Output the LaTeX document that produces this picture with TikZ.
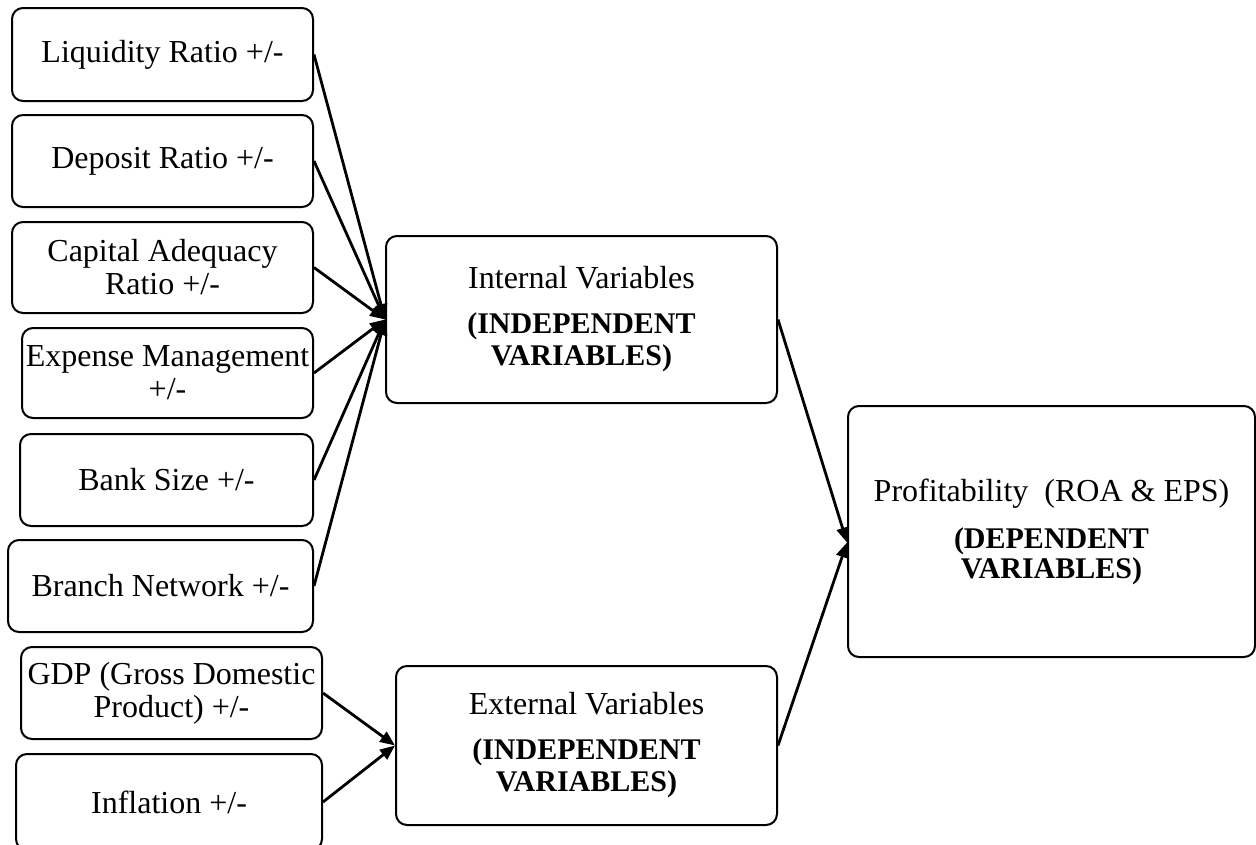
\documentclass[tikz,border=0pt]{standalone}
\usepackage{fontspec}
\setmainfont{Liberation Serif}
\usetikzlibrary{arrows.meta}
\newcommand{\bigB}[1]{{\fontsize{30}{32}\selectfont\bfseries #1}}
\tikzset{
  box/.style={draw, line width=2pt, rounded corners=11pt, inner sep=0pt, align=center,
    font=\fontsize{32}{33}\selectfont},
  arr/.style={line width=2.8pt, -{Triangle[length=15pt,width=12pt]}}
}
\begin{document}
\begin{tikzpicture}[x=1pt,y=-1pt]
\useasboundingbox (0,0) rectangle (1256,844);
% left boxes
\node[box, minimum width=301, minimum height=93] (liq) at (162.5,54.5) {Liquidity Ratio +/-};
\node[box, minimum width=301, minimum height=92] (dep) at (162.5,161) {Deposit Ratio +/-};
\node[box, minimum width=301, minimum height=91] (cap) at (162.5,267.5) {Capital Adequacy\\Ratio +/-};
\node[box, minimum width=291, minimum height=90] (exp) at (167.5,373) {Expense Management\\+/-};
\node[box, minimum width=293, minimum height=92] (size) at (166.5,480) {Bank Size +/-};
\node[box, minimum width=305, minimum height=92] (br) at (160.5,586) {Branch Network +/-};
\node[box, minimum width=301, minimum height=92] (gdp) at (171.5,693) {GDP (Gross Domestic\\Product) +/-};
\node[box, minimum width=306, minimum height=96] (inf) at (169,802) {Inflation +/-};
% middle boxes
\node[box, minimum width=391, minimum height=167] (int) at (581.5,319.5)
  {Internal Variables\\[12pt]\bigB{(INDEPENDENT}\\[-1pt]\bigB{VARIABLES)}};
\node[box, minimum width=381, minimum height=159] (ext) at (586.5,745.5)
  {External Variables\\[12pt]\bigB{(INDEPENDENT}\\[-1pt]\bigB{VARIABLES)}};
% right box
\node[box, minimum width=407, minimum height=251] (prof) at (1051.5,531.5)
  {Profitability\ \ (ROA \& EPS)\\[14pt]\bigB{(DEPENDENT}\\[-3pt]\bigB{VARIABLES)}};
\coordinate (pin) at ([yshift=-11pt]prof.west);
% connectors
\foreach \s in {liq,dep,cap,exp,size,br}
  \draw[arr] (\s.east) -- (int.west);
\draw[arr] (gdp.east) -- (ext.west);
\draw[arr] (inf.east) -- (ext.west);
\draw[arr] (int.east) -- (pin);
\draw[arr] (ext.east) -- (pin);
\end{tikzpicture}
\end{document}
